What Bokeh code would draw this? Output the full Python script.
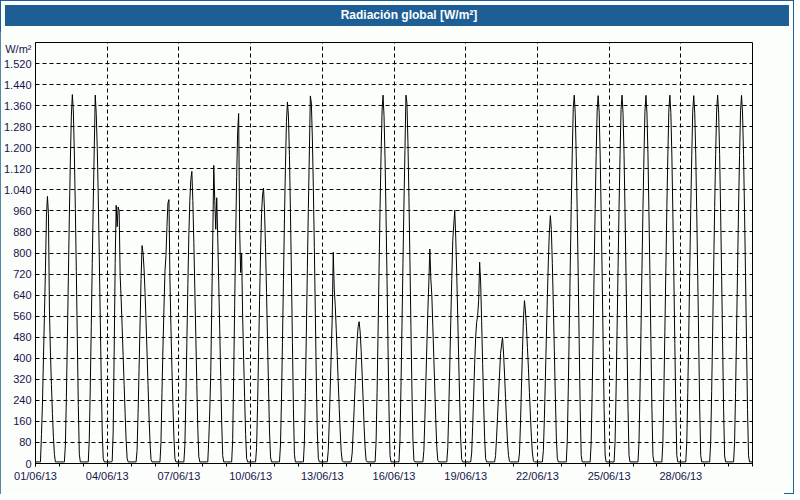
from datetime import datetime
from bokeh.plotting import figure
from bokeh.models import Range1d, FixedTicker, DatetimeTickFormatter, Div, ColumnDataSource
from bokeh.layouts import column
from bokeh.embed import file_html
from bokeh.resources import INLINE

# ---- data (hourly global radiation, W/m², June 2013) ----
hours = [4, 5, 6, 7, 8, 9, 10, 11, 12, 13, 14, 15, 16, 17, 18, 19, 20, 21]
night_level = 6
d01 = [6, 6, 110, 230, 400, 570, 740, 940, 1015, 950, 580, 420, 300, 190, 100, 35, 6, 6]
d02 = [6, 6, 70, 250, 470, 710, 940, 1150, 1320, 1402, 1340, 1180, 970, 730, 470, 220, 35, 6]
d03 = [6, 6, 90, 290, 520, 760, 990, 1200, 1400, 1330, 1200, 1020, 800, 560, 320, 120, 20, 6]
d04 = [6, 8, 120, 420, 760, 981, 900, 975, 960, 715, 625, 520, 410, 300, 190, 90, 20, 6]
d05 = [6, 6, 50, 190, 360, 530, 700, 828, 800, 740, 650, 540, 420, 300, 180, 80, 15, 6]
d06 = [6, 6, 80, 270, 440, 590, 730, 790, 900, 990, 1003, 700, 520, 360, 220, 100, 20, 6]
d07 = [6, 6, 70, 250, 460, 680, 870, 1000, 1080, 1110, 1000, 840, 660, 480, 300, 130, 25, 6]
d08 = [6, 6, 90, 200, 346, 600, 850, 1133, 1000, 890, 1010, 860, 690, 510, 330, 150, 30, 6]
d09 = [6, 6, 90, 330, 600, 860, 1090, 1260, 1330, 891, 726, 800, 560, 400, 250, 110, 20, 6]
d10 = [6, 6, 60, 220, 420, 620, 800, 950, 1020, 1047, 960, 820, 650, 470, 290, 120, 25, 6]
d11 = [6, 6, 70, 240, 460, 700, 930, 1130, 1300, 1374, 1320, 1170, 960, 720, 460, 210, 35, 6]
d12 = [6, 6, 80, 270, 500, 740, 970, 1180, 1397, 1370, 1240, 1050, 820, 570, 320, 120, 20, 6]
d13 = [6, 6, 50, 160, 290, 420, 560, 803, 663, 600, 510, 410, 310, 210, 120, 45, 10, 6]
d14 = [6, 6, 40, 120, 210, 300, 390, 470, 520, 539, 500, 430, 340, 240, 140, 60, 12, 6]
d15 = [6, 6, 80, 270, 500, 740, 970, 1170, 1340, 1400, 1320, 1160, 940, 700, 440, 200, 30, 6]
d16 = [6, 6, 90, 290, 520, 760, 990, 1190, 1400, 1370, 1220, 1010, 770, 520, 280, 90, 12, 6]
d17 = [6, 6, 50, 170, 310, 450, 580, 690, 815, 701, 638, 520, 400, 280, 160, 60, 12, 6]
d18 = [6, 6, 60, 200, 370, 540, 700, 848, 906, 962, 860, 720, 560, 390, 230, 90, 15, 6]
d19 = [6, 6, 40, 140, 260, 380, 480, 536, 562, 620, 765, 690, 540, 380, 230, 100, 18, 6]
d20 = [6, 6, 30, 100, 180, 260, 340, 418, 450, 479, 420, 340, 250, 160, 80, 30, 8, 6]
d21 = [6, 6, 40, 150, 290, 430, 550, 619, 580, 520, 440, 360, 270, 180, 100, 40, 10, 6]
d22 = [6, 6, 50, 170, 320, 480, 630, 770, 880, 942, 890, 760, 600, 430, 260, 100, 20, 6]
d23 = [6, 6, 85, 280, 510, 750, 980, 1180, 1350, 1400, 1330, 1170, 950, 710, 450, 200, 30, 6]
d24 = [6, 6, 80, 270, 500, 740, 970, 1170, 1340, 1398, 1335, 1180, 960, 720, 460, 210, 32, 6]
d25 = [6, 6, 82, 275, 505, 745, 975, 1175, 1345, 1400, 1330, 1175, 955, 715, 455, 205, 30, 6]
d26 = [6, 6, 78, 268, 498, 738, 968, 1168, 1338, 1399, 1332, 1178, 958, 718, 458, 208, 31, 6]
d27 = [6, 6, 80, 272, 502, 742, 972, 1172, 1342, 1400, 1334, 1176, 956, 716, 456, 206, 30, 6]
d28 = [6, 6, 79, 270, 500, 740, 970, 1170, 1340, 1398, 1333, 1177, 957, 717, 457, 207, 31, 6]
d29 = [6, 6, 81, 273, 503, 743, 973, 1173, 1343, 1400, 1331, 1174, 954, 714, 454, 204, 29, 6]
d30 = [6, 6, 80, 271, 501, 741, 971, 1171, 1341, 1399, 1332, 1175, 955, 715, 455, 205, 30, 6]
daily = [d01, d02, d03, d04, d05, d06, d07, d08, d09, d10, d11, d12, d13, d14, d15,
         d16, d17, d18, d19, d20, d21, d22, d23, d24, d25, d26, d27, d28, d29, d30]
days = list(range(1, 31))

y_ticks = [0, 80, 160, 240, 320, 400, 480, 560, 640, 720, 800, 880, 960, 1040,
           1120, 1200, 1280, 1360, 1440, 1520]
unit_label = "W/m²"
unit_pos = 1574
x_label_days = [1, 4, 7, 10, 13, 16, 19, 22, 25, 28]
title_text = "Radiación global [W/m²]"

# ---- build series ----
xs, ys = [], []
for day, vals in zip(days, daily):
    xs.append(datetime(2013, 6, day, 0))
    ys.append(night_level)
    for h, v in zip(hours, vals):
        xs.append(datetime(2013, 6, day, h))
        ys.append(v)
xs.append(datetime(2013, 7, 1, 0))
ys.append(night_level)
src = ColumnDataSource(dict(t=xs, v=ys))

EPOCH = datetime(1970, 1, 1)
def ms(dt):
    return (dt - EPOCH).total_seconds() * 1000.0

major_ms = [ms(datetime(2013, 6, d)) for d in x_label_days]
minor_ms = [ms(datetime(2013, 6, d)) for d in days] + [ms(datetime(2013, 7, 1))]

BG = "#FCFEFC"
BLUE = "#1D5E95"
TXT = "#15154A"
FONT = "Liberation Sans"

p = figure(width=784, height=463, x_axis_type="datetime", title=None,
           output_backend="svg", toolbar_location=None,
           x_range=Range1d(datetime(2013, 6, 1), datetime(2013, 7, 1)),
           y_range=Range1d(0, 1600),
           min_border_left=32, min_border_right=32,
           min_border_top=11, min_border_bottom=31)
p.background_fill_color = BG
p.border_fill_color = BG
p.outline_line_color = "black"
p.outline_line_width = 1

p.line("t", "v", source=src, line_color="black", line_width=1)

# x axis
xa = p.xaxis[0]
xa.ticker = FixedTicker(ticks=major_ms, minor_ticks=minor_ms)
fmt = "%d/%m/%y"
xa.formatter = DatetimeTickFormatter(days=fmt, months=fmt, hours=fmt, hourmin=fmt,
                                     minutes=fmt, years=fmt, minsec=fmt, seconds=fmt,
                                     milliseconds=fmt, microseconds=fmt)
xa.major_tick_out = 3
xa.major_tick_in = 0
xa.minor_tick_out = 3
xa.minor_tick_in = 0
xa.major_label_standoff = 3
xa.axis_line_color = "black"
xa.major_tick_line_color = "black"
xa.minor_tick_line_color = "black"
xa.major_label_text_font = FONT
xa.major_label_text_font_size = "11px"
xa.major_label_text_color = TXT

# y axis
ya = p.yaxis[0]
ya.ticker = FixedTicker(ticks=y_ticks + [unit_pos])
overrides = {v: f"{v:,}".replace(",", ".") for v in y_ticks}
overrides[unit_pos] = unit_label
ya.major_label_overrides = overrides
ya.major_tick_out = 0
ya.major_tick_in = 0
ya.minor_tick_out = 0
ya.minor_tick_in = 0
ya.major_label_standoff = 4
ya.axis_line_color = "black"
ya.major_label_text_font = FONT
ya.major_label_text_font_size = "11px"
ya.major_label_text_color = TXT

# grid
p.ygrid.ticker = FixedTicker(ticks=y_ticks[1:])
p.xgrid.ticker = FixedTicker(ticks=major_ms[1:])
for g in (p.xgrid, p.ygrid):
    g.grid_line_color = "black"
    g.grid_line_dash = "4 3"
    g.grid_line_width = 1

title_div = Div(text=title_text, width=784, height=21,
                styles={"background-color": BLUE, "color": "white",
                        "font-family": FONT, "font-weight": "bold",
                        "font-size": "12px", "text-align": "center",
                        "line-height": "21px", "text-indent": "24px"})

layout = column(title_div, p, spacing=0,
                styles={"outline": "1px solid " + BLUE, "outline-offset": "-1px",
                        "background-color": BG})

open("out.html", "w").write(file_html(layout, INLINE))
